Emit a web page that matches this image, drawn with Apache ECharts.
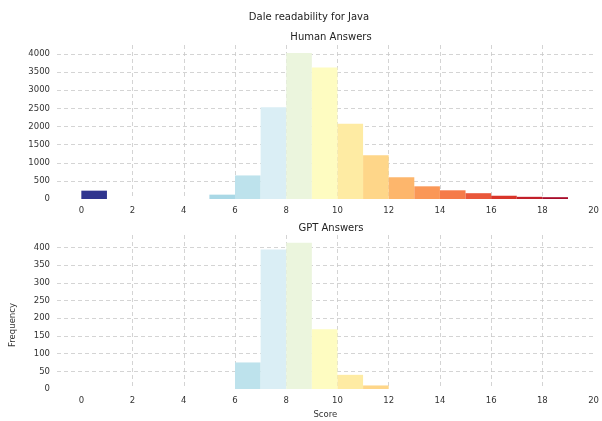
<!DOCTYPE html>
<html>
<head>
<meta charset="utf-8">
<script src="https://cdn.jsdelivr.net/npm/echarts@6/dist/echarts.min.js"></script>
<style>
  html, body { margin: 0; padding: 0; background: #fff; }
  #main { width: 602px; height: 421px; }
</style>
</head>
<body>
<div id="main"></div>
<script>
// histogram bins are [start, start + 1)
const binStarts = [0, 1, 2, 3, 4, 5, 6, 7, 8, 9, 10, 11, 12, 13, 14, 15, 16, 17, 18, 19];
const humanCounts = [230, 0, 0, 0, 0, 120, 650, 2530, 4030, 3630, 2080, 1210, 600, 350, 240, 160, 90, 60, 50, 0];
const gptCounts = [0, 0, 0, 0, 0, 0, 75, 394, 413, 169, 40, 10, 0, 0, 0, 0, 0, 0, 0, 0];
const binColors = [
    '#30358f', '#4a6db0', '#6e9ec8', '#8dc2db', '#9fd0e2', '#a9d8e6', '#bde2ec', '#daeef5',
    '#ebf5dd', '#fefcc1', '#feeba3', '#fed689', '#fdb66c', '#fa9757', '#f57b49', '#e9573a',
    '#d9352a', '#c2202a', '#a80c2a', '#a50026'
];
const xTickValues = [0, 2, 4, 6, 8, 10, 12, 14, 16, 18, 20];

const chartDom = document.getElementById('main');
const myChart = echarts.init(chartDom, null, { renderer: 'canvas' });

const font = 'DejaVu Sans';

// Build [start, end, count] rows for a custom histogram series
const toRows = (counts) => binStarts.map((s, i) => [s, s + 1, counts[i]]);

const renderBin = (params, api) => {
    const p0 = api.coord([api.value(0), 0]);
    const p1 = api.coord([api.value(1), api.value(2)]);
    return {
        type: 'rect',
        shape: { x: p0[0], y: p1[1], width: p1[0] - p0[0], height: p0[1] - p1[1] },
        style: { fill: binColors[params.dataIndex] }
    };
};

const gridLine = { show: true, lineStyle: { color: '#c9c9c9', type: [4, 3], width: 0.8 } };

const makeX = (gridIndex, name) => ({
    type: 'value',
    gridIndex: gridIndex,
    min: -0.95,
    max: 20,
    name: name,
    nameLocation: 'middle',
    nameGap: 21,
    nameTextStyle: { color: '#333', fontSize: 8.5, fontFamily: font },
    axisLine: { show: false },
    axisTick: { show: false, customValues: xTickValues },
    axisLabel: { customValues: xTickValues, color: '#333', fontSize: 8.5, fontFamily: font, margin: 7 },
    splitLine: Object.assign({ showMinLine: false, showMaxLine: false }, gridLine)
});

const makeY = (gridIndex, max, interval) => ({
    type: 'value',
    gridIndex: gridIndex,
    min: 0,
    max: max,
    interval: interval,
    axisLine: { show: false },
    axisTick: { show: false },
    axisLabel: { color: '#333', fontSize: 8.5, fontFamily: font, margin: 7, showMaxLabel: false,
                 formatter: (v) => String(v) },
    splitLine: Object.assign({ showMinLine: false, showMaxLine: false }, gridLine)
});

const option = {
    animation: false,
    title: [
        { text: 'Dale readability for Java', left: 304, top: 7, textAlign: 'center',
          textStyle: { fontSize: 10, fontWeight: 'normal', color: '#222', fontFamily: font } },
        { text: 'Human Answers', left: 326, top: 27, textAlign: 'center',
          textStyle: { fontSize: 10, fontWeight: 'normal', color: '#222', fontFamily: font } },
        { text: 'GPT Answers', left: 326, top: 218, textAlign: 'center',
          textStyle: { fontSize: 10, fontWeight: 'normal', color: '#222', fontFamily: font } }
    ],
    graphic: [
        { type: 'text', x: 13, y: 325, rotation: Math.PI / 2,
          style: { text: 'Frequency', fill: '#333', font: '8.5px "DejaVu Sans"', align: 'center', verticalAlign: 'middle' } }
    ],
    grid: [
        { left: 57, right: 6, top: 45, bottom: 222 },
        { left: 57, right: 6, top: 235, bottom: 32 }
    ],
    xAxis: [makeX(0, ''), makeX(1, 'Score')],
    yAxis: [makeY(0, 4250, 500), makeY(1, 435, 50)],
    series: [
        { type: 'custom', xAxisIndex: 0, yAxisIndex: 0, renderItem: renderBin,
          encode: { x: [0, 1], y: 2 }, data: toRows(humanCounts) },
        { type: 'custom', xAxisIndex: 1, yAxisIndex: 1, renderItem: renderBin,
          encode: { x: [0, 1], y: 2 }, data: toRows(gptCounts) }
    ]
};

myChart.setOption(option);
</script>
</body>
</html>
